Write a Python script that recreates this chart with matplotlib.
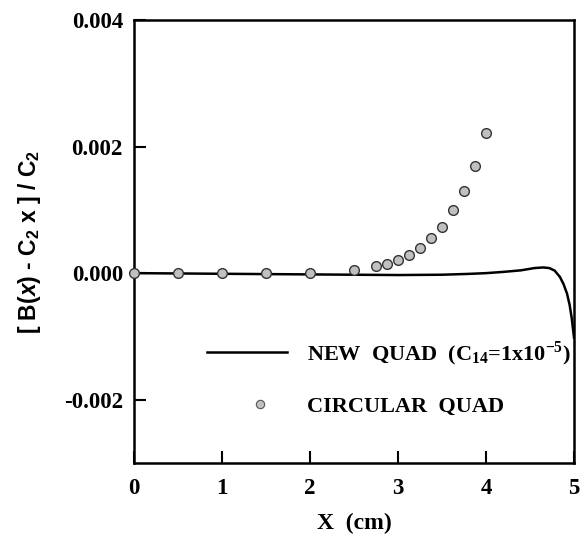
import matplotlib
matplotlib.use("Agg")
import matplotlib.pyplot as plt
from matplotlib.lines import Line2D
from matplotlib.legend_handler import HandlerLine2D

plt.rcParams['mathtext.fontset'] = 'custom'
plt.rcParams['mathtext.rm'] = 'Liberation Serif:bold'
plt.rcParams['mathtext.bf'] = 'Liberation Sans:bold'
plt.rcParams['mathtext.it'] = 'Liberation Sans:bold:italic'
plt.rcParams['mathtext.sf'] = 'Liberation Sans:bold'

# NEW QUAD curve
new_x = [0.0, 0.5, 1.0, 1.5, 2.0, 2.5, 3.0, 3.5, 3.8, 4.0, 4.2, 4.4, 4.55, 4.65, 4.72,
         4.78, 4.84, 4.88, 4.92, 4.95, 4.975, 5.0]
new_y = [0.0, -0.000005, -0.00001, -0.000015, -0.00002, -0.000025, -0.00003, -0.000025,
         -0.000012, 0.0, 0.00002, 0.000045, 0.00008, 0.00009, 0.00008,
         0.00004, -0.00006, -0.00017, -0.00032, -0.00050, -0.00072, -0.00102]

# CIRCULAR QUAD points
circ_x = [0.0, 0.5, 1.0, 1.5, 2.0, 2.5, 2.75, 2.875, 3.0, 3.125, 3.25, 3.375, 3.5,
          3.625, 3.75, 3.875, 4.0]
circ_y = [0.0, 0.0, 0.0, 0.0, 0.0, 0.00005, 0.00011, 0.00014, 0.00020, 0.00029,
          0.00040, 0.00055, 0.00073, 0.00099, 0.00130, 0.00170, 0.00221]

xticks = [0, 1, 2, 3, 4, 5]
yticks = [-0.002, 0.000, 0.002, 0.004]
ytick_labels = ['-0.002', '0.000', '0.002', '0.004']


class ShiftedMarker(HandlerLine2D):
    def create_artists(self, legend, orig_handle, xdescent, ydescent, width, height,
                       fontsize, trans):
        return super().create_artists(legend, orig_handle, xdescent - 9.5, ydescent,
                                      width, height, fontsize, trans)


fig = plt.figure(figsize=(5.8, 5.44), dpi=100)
ax = fig.add_axes([134/580, 1-463/544, 440/580, 443/544])

ax.plot(new_x, new_y, color='black', lw=1.8, zorder=2)
ax.plot(circ_x, circ_y, ls='none', marker='o', ms=7, mfc='#c0c0c0', mec='#333333',
        mew=1.0, zorder=3, clip_on=False)

ax.set_xlim(0, 5)
ax.set_ylim(-0.003, 0.004)
ax.set_xticks(xticks)
ax.set_xticklabels([str(t) for t in xticks])
ax.set_yticks(yticks)
ax.set_yticklabels(ytick_labels)

for s in ax.spines.values():
    s.set_linewidth(1.8)
ax.tick_params(direction='in', length=8.5, width=1.5, top=False, right=False)
ax.tick_params(axis='x', pad=11)
ax.tick_params(axis='y', pad=8)
for lab in ax.get_xticklabels() + ax.get_yticklabels():
    lab.set_fontfamily('Liberation Serif')
    lab.set_fontweight('bold')
    lab.set_fontsize(16.5)

ax.set_xlabel('X  (cm)', fontfamily='Liberation Serif', fontweight='bold', fontsize=17, labelpad=10)
ax.set_ylabel(r'[ B($\mathit{x}$) - C$_\mathbf{2}$ x ] / C$_\mathbf{2}$',
              fontfamily='Liberation Sans', fontweight='bold', fontsize=16.5, labelpad=15)

line_handle = Line2D([0], [0], color='black', lw=1.8)
circ_handle = Line2D([0], [0], ls='none', marker='o', ms=6, mfc='#c0c0c0', mec='#555555', mew=0.8)
labels = [r'NEW  QUAD  ($\mathrm{C_{14}}$=1x10$^{\mathrm{-5}}$)', 'CIRCULAR  QUAD']
leg = ax.legend([line_handle, circ_handle], labels, loc='upper left', bbox_to_anchor=(0.166, 0.28),
                frameon=False, handlelength=3.6, handletextpad=0.9, labelspacing=1.3,
                borderpad=0, borderaxespad=0, numpoints=1,
                handler_map={circ_handle: ShiftedMarker()},
                prop={'family': 'Liberation Serif', 'weight': 'bold', 'size': 16})

fig.savefig('out.png', dpi=100)
